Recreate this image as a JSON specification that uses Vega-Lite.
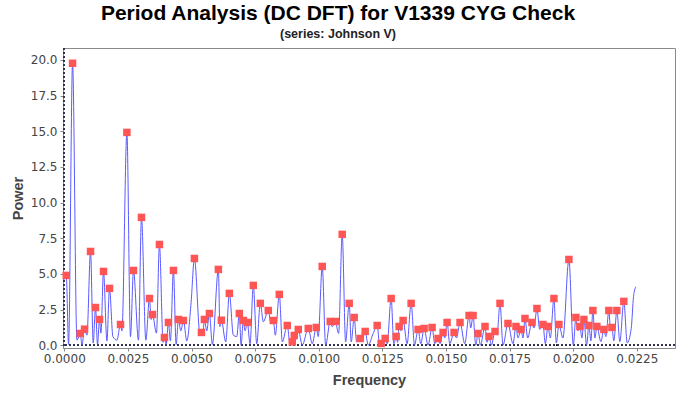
{
 "$schema": "https://vega.github.io/schema/vega-lite/v6.json",
 "width": 612,
 "height": 300,
 "autosize": "none",
 "padding": {"left": 63, "top": 48, "right": 2, "bottom": 48},
 "background": "white",
 "config": {"view": {"stroke": "#8a8a8a", "strokeWidth": 1}},
 "title": {
  "text": "Period Analysis (DC DFT) for V1339 CYG Check",
  "subtitle": "(series: Johnson V)",
  "font": "Liberation Sans", "fontSize": 21, "fontWeight": "bold", "color": "#000000",
  "subtitleFont": "Liberation Sans", "subtitleFontSize": 12.5, "subtitleFontWeight": "bold", "subtitleColor": "#222222",
  "anchor": "middle", "frame": "group", "dx": -31, "offset": 7, "subtitlePadding": 4
 },
 "data": {"values": [
  {"f":0,"p":4.6,"pk":0},{"f":0.0000785,"p":4.89,"pk":1},{"f":0.000169,"p":0.05,"pk":0},{"f":0.000326,"p":19.77,"pk":1},
  {"f":0.000498,"p":0.35,"pk":0},{"f":0.000628,"p":0.82,"pk":1},{"f":0.000695,"p":0.0,"pk":0},{"f":0.000797,"p":1.12,"pk":1},
  {"f":0.000891,"p":0.7,"pk":0},{"f":0.001032,"p":6.57,"pk":1},{"f":0.001138,"p":0.15,"pk":0},{"f":0.001228,"p":2.64,"pk":1},
  {"f":0.001307,"p":0.05,"pk":0},{"f":0.001385,"p":1.80,"pk":1},{"f":0.00144,"p":0.84,"pk":0},{"f":0.001542,"p":5.17,"pk":1},
  {"f":0.001676,"p":0.3,"pk":0},{"f":0.001778,"p":3.98,"pk":1},{"f":0.001911,"p":0.6,"pk":0},{"f":0.002068,"p":0.35,"pk":0},
  {"f":0.00221,"p":1.45,"pk":1},{"f":0.002265,"p":1.0,"pk":0},{"f":0.002461,"p":14.92,"pk":1},{"f":0.002602,"p":0.6,"pk":0},
  {"f":0.00272,"p":5.24,"pk":1},{"f":0.002916,"p":0.35,"pk":0},{"f":0.003034,"p":8.96,"pk":1},{"f":0.003206,"p":0.35,"pk":0},
  {"f":0.003348,"p":3.27,"pk":1},{"f":0.003414,"p":1.8,"pk":0},{"f":0.003466,"p":2.15,"pk":1},{"f":0.003622,"p":0.84,"pk":0},
  {"f":0.00374,"p":7.06,"pk":1},{"f":0.003885,"p":0.2,"pk":0},{"f":0.003936,"p":0.54,"pk":1},{"f":0.004003,"p":0.05,"pk":0},
  {"f":0.004093,"p":1.59,"pk":1},{"f":0.004172,"p":0.3,"pk":0},{"f":0.00429,"p":5.24,"pk":1},{"f":0.004396,"p":0.05,"pk":0},
  {"f":0.004486,"p":1.80,"pk":1},{"f":0.00458,"p":1.0,"pk":0},{"f":0.004682,"p":1.73,"pk":1},{"f":0.004816,"p":0.3,"pk":0},
  {"f":0.004984,"p":3.0,"pk":0},{"f":0.005114,"p":6.08,"pk":1},{"f":0.005338,"p":0.7,"pk":0},{"f":0.005389,"p":0.89,"pk":1},
  {"f":0.005443,"p":0.7,"pk":0},{"f":0.005506,"p":1.80,"pk":1},{"f":0.0056,"p":1.0,"pk":0},{"f":0.005702,"p":2.22,"pk":1},
  {"f":0.00582,"p":0.05,"pk":0},{"f":0.006056,"p":5.31,"pk":1},{"f":0.006115,"p":1.3,"pk":0},{"f":0.006173,"p":1.75,"pk":1},
  {"f":0.006346,"p":0.23,"pk":0},{"f":0.006487,"p":3.63,"pk":1},{"f":0.006644,"p":0.7,"pk":0},{"f":0.006778,"p":0.6,"pk":0},
  {"f":0.00688,"p":2.22,"pk":1},{"f":0.006947,"p":0.0,"pk":0},{"f":0.007037,"p":1.73,"pk":1},{"f":0.007104,"p":1.0,"pk":0},
  {"f":0.007194,"p":1.59,"pk":1},{"f":0.0073,"p":0.1,"pk":0},{"f":0.007429,"p":4.19,"pk":1},{"f":0.007563,"p":0.1,"pk":0},
  {"f":0.007704,"p":2.93,"pk":1},{"f":0.007822,"p":1.64,"pk":0},{"f":0.008018,"p":2.43,"pk":1},{"f":0.008124,"p":1.5,"pk":0},
  {"f":0.008214,"p":1.73,"pk":1},{"f":0.008293,"p":0.7,"pk":0},{"f":0.00845,"p":3.56,"pk":1},{"f":0.008568,"p":0.23,"pk":0},
  {"f":0.008764,"p":1.38,"pk":1},{"f":0.00887,"p":0.1,"pk":0},{"f":0.00896,"p":0.23,"pk":1},{"f":0.008999,"p":0.1,"pk":0},
  {"f":0.009038,"p":0.68,"pk":1},{"f":0.009105,"p":0.4,"pk":0},{"f":0.009195,"p":1.10,"pk":1},{"f":0.009352,"p":0.0,"pk":0},
  {"f":0.009588,"p":1.17,"pk":1},{"f":0.009745,"p":0.1,"pk":0},{"f":0.009902,"p":1.24,"pk":1},{"f":0.00998,"p":0.6,"pk":0},
  {"f":0.010137,"p":5.52,"pk":1},{"f":0.010271,"p":0.0,"pk":0},{"f":0.010451,"p":1.66,"pk":1},{"f":0.01053,"p":1.3,"pk":0},
  {"f":0.010648,"p":1.66,"pk":1},{"f":0.010781,"p":0.82,"pk":0},{"f":0.010922,"p":7.77,"pk":1},{"f":0.011056,"p":0.23,"pk":0},
  {"f":0.011197,"p":2.93,"pk":1},{"f":0.011276,"p":0.23,"pk":0},{"f":0.011393,"p":1.94,"pk":1},{"f":0.011488,"p":0.23,"pk":0},
  {"f":0.011629,"p":0.47,"pk":1},{"f":0.011707,"p":0.35,"pk":0},{"f":0.011825,"p":0.96,"pk":1},{"f":0.011943,"p":0.0,"pk":0},
  {"f":0.012139,"p":0.82,"pk":0},{"f":0.012296,"p":1.38,"pk":1},{"f":0.01239,"p":0.1,"pk":0},{"f":0.012453,"p":0.12,"pk":1},
  {"f":0.01252,"p":0.05,"pk":0},{"f":0.01261,"p":0.47,"pk":1},{"f":0.012688,"p":0.1,"pk":0},{"f":0.012845,"p":3.27,"pk":1},
  {"f":0.012951,"p":0.1,"pk":0},{"f":0.013042,"p":0.61,"pk":1},{"f":0.013097,"p":0.2,"pk":0},{"f":0.013159,"p":1.31,"pk":1},
  {"f":0.013226,"p":1.0,"pk":0},{"f":0.013316,"p":1.73,"pk":1},{"f":0.013473,"p":0.1,"pk":0},{"f":0.013631,"p":2.93,"pk":1},
  {"f":0.013764,"p":0.0,"pk":0},{"f":0.013905,"p":1.10,"pk":1},{"f":0.014011,"p":0.1,"pk":0},{"f":0.014141,"p":1.17,"pk":1},
  {"f":0.014297,"p":0.0,"pk":0},{"f":0.014454,"p":1.24,"pk":1},{"f":0.01456,"p":0.1,"pk":0},{"f":0.01469,"p":0.47,"pk":1},
  {"f":0.014768,"p":0.1,"pk":0},{"f":0.014886,"p":0.89,"pk":1},{"f":0.014953,"p":0.5,"pk":0},{"f":0.015043,"p":1.59,"pk":1},
  {"f":0.015149,"p":0.1,"pk":0},{"f":0.015318,"p":0.89,"pk":1},{"f":0.015412,"p":0.5,"pk":0},{"f":0.015553,"p":1.59,"pk":1},
  {"f":0.015738,"p":0.1,"pk":0},{"f":0.015907,"p":2.08,"pk":1},{"f":0.015973,"p":1.2,"pk":0},{"f":0.016064,"p":2.08,"pk":1},
  {"f":0.01617,"p":0.0,"pk":0},{"f":0.01626,"p":0.82,"pk":1},{"f":0.016354,"p":0.0,"pk":0},{"f":0.016534,"p":1.31,"pk":1},
  {"f":0.016613,"p":0.2,"pk":0},{"f":0.016692,"p":0.61,"pk":1},{"f":0.016786,"p":0.0,"pk":0},{"f":0.016927,"p":0.96,"pk":1},
  {"f":0.017006,"p":0.7,"pk":0},{"f":0.017123,"p":2.93,"pk":1},{"f":0.017241,"p":0.0,"pk":0},{"f":0.017437,"p":1.52,"pk":1},
  {"f":0.017634,"p":0.1,"pk":0},{"f":0.017751,"p":1.31,"pk":1},{"f":0.01783,"p":0.5,"pk":0},{"f":0.017948,"p":1.10,"pk":1},
  {"f":0.018026,"p":0.5,"pk":0},{"f":0.018105,"p":1.87,"pk":1},{"f":0.01821,"p":0.5,"pk":0},{"f":0.018379,"p":1.59,"pk":1},
  {"f":0.018458,"p":1.2,"pk":0},{"f":0.018575,"p":2.57,"pk":1},{"f":0.018681,"p":1.1,"pk":0},{"f":0.018811,"p":1.45,"pk":1},
  {"f":0.018905,"p":0.1,"pk":0},{"f":0.019007,"p":1.31,"pk":1},{"f":0.019101,"p":0.5,"pk":0},{"f":0.019242,"p":3.27,"pk":1},
  {"f":0.019337,"p":0.15,"pk":0},{"f":0.019439,"p":1.45,"pk":1},{"f":0.019596,"p":0.5,"pk":0},{"f":0.019831,"p":6.01,"pk":1},
  {"f":0.020004,"p":0.0,"pk":0},{"f":0.020106,"p":1.94,"pk":1},{"f":0.020184,"p":1.0,"pk":0},{"f":0.020263,"p":1.31,"pk":1},
  {"f":0.020342,"p":0.5,"pk":0},{"f":0.02042,"p":1.80,"pk":1},{"f":0.020526,"p":0.0,"pk":0},{"f":0.020616,"p":1.38,"pk":1},
  {"f":0.020695,"p":0.3,"pk":0},{"f":0.020773,"p":2.43,"pk":1},{"f":0.020852,"p":0.5,"pk":0},{"f":0.020931,"p":1.31,"pk":1},
  {"f":0.021088,"p":0.25,"pk":0},{"f":0.021205,"p":1.10,"pk":1},{"f":0.021284,"p":0.6,"pk":0},{"f":0.021401,"p":2.43,"pk":1},
  {"f":0.021468,"p":1.0,"pk":0},{"f":0.021519,"p":1.24,"pk":1},{"f":0.021598,"p":0.3,"pk":0},{"f":0.021715,"p":2.43,"pk":1},
  {"f":0.021833,"p":0.25,"pk":0},{"f":0.021989,"p":3.07,"pk":1},{"f":0.022123,"p":0.16,"pk":0},{"f":0.02228,"p":1.17,"pk":0},
  {"f":0.02237,"p":3.4,"pk":0},{"f":0.02246,"p":4.1,"pk":0}
 ]},
 "encoding": {
  "x": {"field": "f", "type": "quantitative",
   "scale": {"domain": [-0.00005, 0.024], "nice": false, "zero": false},
   "axis": {"title": "Frequency", "values": [0,0.0025,0.005,0.0075,0.01,0.0125,0.015,0.0175,0.02,0.0225],
    "format": ".4f", "grid": false, "domainColor": "#888888", "tickColor": "#888888", "tickSize": 3,
    "labelFont": "DejaVu Sans", "labelFontSize": 12, "labelColor": "#444444", "labelPadding": 2,
    "titleFont": "Liberation Sans", "titleFontSize": 14.5, "titleFontWeight": "bold", "titleColor": "#444444", "titlePadding": 9}},
  "y": {"field": "p", "type": "quantitative",
   "scale": {"domain": [-0.2, 20.84], "nice": false, "zero": false},
   "axis": {"title": "Power", "values": [0,2.5,5,7.5,10,12.5,15,17.5,20],
    "format": ".1f", "grid": false, "domainColor": "#888888", "tickColor": "#888888", "tickSize": 3,
    "labelFont": "DejaVu Sans", "labelFontSize": 12, "labelColor": "#444444", "labelPadding": 3,
    "titleFont": "Liberation Sans", "titleFontSize": 14.5, "titleFontWeight": "bold", "titleColor": "#444444", "titlePadding": 5}}
 },
 "layer": [
  {"mark": {"type": "rule", "color": "#333355", "strokeDash": [2, 2], "strokeWidth": 1},
   "encoding": {"x": {"datum": 0, "type": "quantitative"}, "y": null}},
  {"mark": {"type": "rule", "color": "#333355", "strokeDash": [2, 2], "strokeWidth": 1},
   "encoding": {"y": {"datum": 0, "type": "quantitative"}, "x": null}},
  {"mark": {"type": "line", "color": "#5a5aff", "strokeWidth": 1, "interpolate": "monotone"}},
  {"transform": [{"filter": "datum.pk == 1"}],
   "mark": {"type": "square", "color": "#ff5555", "filled": true, "opacity": 1, "size": 56}}
 ]
}
